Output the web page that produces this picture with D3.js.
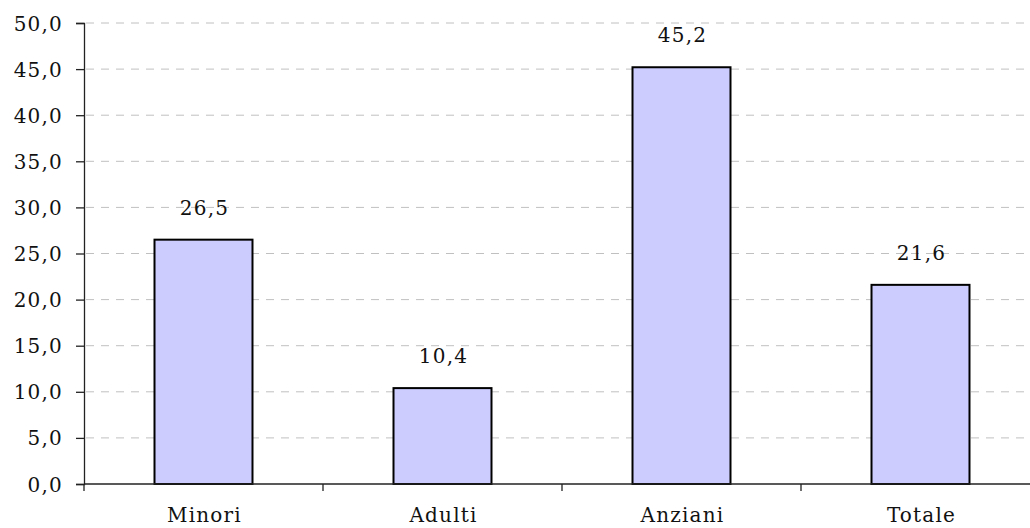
<!DOCTYPE html>
<html>
<head>
<meta charset="utf-8">
<title>Bar chart</title>
<script src="https://cdn.jsdelivr.net/npm/d3@7"></script>
<style>
	body{ margin:0; background:#fff; }
	svg text{ font-family:"DejaVu Serif", serif; font-size:20px; letter-spacing:1.2px; fill:#111; }
</style>
</head>
<body>
<div id="chart"></div>
<script>
var categories = ['Minori', 'Adulti', 'Anziani', 'Totale'];
var values = [26.5, 10.4, 45.2, 21.6];
var yTicks = [0, 5, 10, 15, 20, 25, 30, 35, 40, 45, 50];

var W = 1030, H = 528;
var svg = d3.select('#chart').append('svg').attr('width', W).attr('height', H);

var fmt = function(v){ return v.toFixed(1).replace('.', ','); };

var x = d3.scaleBand().domain(categories).range([84, 1040])
	.paddingInner(0.59).paddingOuter(0.295);
var y = d3.scaleLinear().domain([0, 50]).range([484, 23]);

// grid lines
svg.selectAll('line.grid').data(yTicks.slice(1)).enter().append('line')
	.attr('class', 'grid')
	.attr('x1', 86).attr('x2', W)
	.attr('y1', function(d){ return y(d); }).attr('y2', function(d){ return y(d); })
	.attr('stroke', '#c0c0c0').attr('stroke-width', 1).attr('stroke-dasharray', '8,7');

// y axis
var yAxis = d3.axisLeft(y).tickValues(yTicks).tickFormat(fmt).tickSize(8).tickPadding(13);
var gy = svg.append('g').attr('transform', 'translate(84,0)').call(yAxis);
gy.select('.domain').attr('stroke', '#222').attr('stroke-width', 1.3);
gy.selectAll('.tick line').attr('stroke', '#222').attr('stroke-width', 1.3);
gy.selectAll('text').attr('font-family', null).attr('font-size', null).attr('fill', '#111').attr('dy', '0.35em');

// bars
svg.selectAll('rect.bar').data(values).enter().append('rect')
	.attr('class', 'bar')
	.attr('x', function(d, i){ return x(categories[i]); })
	.attr('width', x.bandwidth())
	.attr('y', function(d){ return y(d); })
	.attr('height', function(d){ return y(0) - y(d); })
	.attr('fill', '#ccccff').attr('stroke', '#000').attr('stroke-width', 2);

// x axis line and ticks between categories
svg.append('line').attr('x1', 84).attr('x2', W).attr('y1', y(0)).attr('y2', y(0))
	.attr('stroke', '#222').attr('stroke-width', 1.3);
var step = x.step();
svg.selectAll('line.xtick').data(d3.range(categories.length + 1)).enter().append('line')
	.attr('class', 'xtick')
	.attr('x1', function(i){ return x.range()[0] + i * step; })
	.attr('x2', function(i){ return x.range()[0] + i * step; })
	.attr('y1', y(0)).attr('y2', y(0) + 7)
	.attr('stroke', '#222').attr('stroke-width', 1.3);

// category labels
svg.selectAll('text.cat').data(categories).enter().append('text')
	.attr('class', 'cat')
	.attr('x', function(d){ return x(d) + x.bandwidth() / 2 + 1; })
	.attr('y', 522)
	.attr('text-anchor', 'middle')
	.text(function(d){ return d; });

// value labels
svg.selectAll('text.val').data(values).enter().append('text')
	.attr('class', 'val')
	.attr('x', function(d, i){ return x(categories[i]) + x.bandwidth() / 2 + 1; })
	.attr('y', function(d){ return y(d) - 25; })
	.attr('text-anchor', 'middle')
	.text(function(d){ return fmt(d); });
</script>
</body>
</html>
